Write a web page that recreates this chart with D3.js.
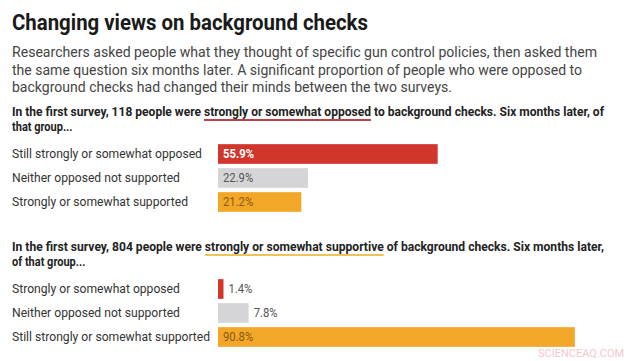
<!DOCTYPE html>
<html>
<head>
<meta charset="utf-8">
<script src="https://cdn.jsdelivr.net/npm/d3@7"></script>
<style>
  body { margin: 0; background: #fff; }
  svg text { font-family: Roboto, "Noto Sans", sans-serif; }
</style>
</head>
<body>
<div id="chart"></div>
<script>
var width = 639, height = 361;

var title = "Changing views on background checks";
var descLines = [
  "Researchers asked people what they thought of specific gun control policies, then asked them",
  "the same question six months later. A significant proportion of people who were opposed to",
  "background checks had changed their minds between the two surveys."
];

// group 1
var head1 = ["In the first survey, 118 people were ", "strongly or somewhat opposed", " to background checks. Six months later, of"];
var head1b = "that group...";
var cats1 = ["Still strongly or somewhat opposed", "Neither opposed not supported", "Strongly or somewhat supported"];
var vals1 = [55.9, 22.9, 21.2];

// group 2
var head2 = ["In the first survey, 804 people were ", "strongly or somewhat supportive", " of background checks. Six months later,"];
var head2b = "of that group...";
var cats2 = ["Strongly or somewhat opposed", "Neither opposed not supported", "Still strongly or somewhat supported"];
var vals2 = [1.4, 7.8, 90.8];

var colors1 = ["#d2352c", "#d5d5d8", "#f2a729"];
var colors2 = ["#d2352c", "#d5d5d8", "#f2a729"];
var labelColors1 = ["#ffffff", "#555555", "#8a5a10"];
var labelColors2 = ["#555555", "#555555", "#8a5a10"];

var svg = d3.select("#chart").append("svg")
  .attr("width", width)
  .attr("height", height);

// squeeze text to a target width (the source uses a condensed face)
function fit(sel, w) {
  sel.each(function() {
    var len = this.getComputedTextLength();
    if (len > w) d3.select(this).attr("textLength", w).attr("lengthAdjust", "spacingAndGlyphs");
  });
}
function condense(sel, k) {
  sel.each(function() {
    var len = this.getComputedTextLength();
    d3.select(this).attr("textLength", len * k).attr("lengthAdjust", "spacingAndGlyphs");
  });
}

svg.append("text")
  .attr("x", 12).attr("y", 30)
  .style("font-size", "22px").style("font-weight", "700").style("fill", "#1a1a1a")
  .text(title)
  .call(fit, 356);

var descW = [585, 570, 440];
svg.selectAll("text.desc")
  .data(descLines)
  .enter().append("text")
  .attr("class", "desc")
  .attr("x", 12)
  .attr("y", function(d, i) { return 57 + i * 17.5; })
  .style("font-size", "14.5px").style("fill", "#444")
  .text(function(d) { return d; })
  .each(function(d, i) { fit(d3.select(this), descW[i]); });

var x = d3.scaleLinear().domain([0, 100]).range([218, 611]);

function drawGroup(head, headB, lineColor, cats, vals, colors, labelColors, top, headW) {
  var g = svg.append("g");

  var t = g.append("text")
    .attr("x", 12).attr("y", top)
    .style("font-size", "12.5px").style("font-weight", "700").style("fill", "#222");
  t.selectAll("tspan").data(head).enter().append("tspan").text(function(d) { return d; });
  fit(t, headW);

  // underline the middle part
  var spans = t.selectAll("tspan").nodes();
  var start = spans[0].getComputedTextLength();
  var mid = spans[1].getComputedTextLength();
  var total = t.node().getComputedTextLength();
  var k = Math.min(1, headW / total);
  g.append("line")
    .attr("x1", 12 + start * k).attr("x2", 12 + (start + mid) * k)
    .attr("y1", top + 4).attr("y2", top + 4)
    .style("stroke", lineColor).style("stroke-width", 2);

  g.append("text")
    .attr("x", 12).attr("y", top + 15)
    .style("font-size", "12.5px").style("font-weight", "700").style("fill", "#222")
    .text(headB)
    .call(condense, 0.88);

  var y = d3.scaleBand().domain(cats).range([top + 26, top + 26 + 72]).paddingInner(0.18).paddingOuter(0.09);

  g.selectAll("text.cat")
    .data(cats).enter().append("text")
    .attr("class", "cat")
    .attr("x", 12)
    .attr("y", function(d) { return y(d) + y.bandwidth() / 2; })
    .attr("dy", "0.35em")
    .style("font-size", "12.5px").style("fill", "#333")
    .text(function(d) { return d; })
    .call(condense, 0.97);

  g.selectAll("rect.bar")
    .data(vals).enter().append("rect")
    .attr("class", "bar")
    .attr("x", x(0))
    .attr("y", function(d, i) { return y(cats[i]); })
    .attr("width", function(d) { return x(d) - x(0); })
    .attr("height", y.bandwidth())
    .style("fill", function(d, i) { return colors[i]; });

  g.selectAll("text.val")
    .data(vals).enter().append("text")
    .attr("class", "val")
    .attr("x", function(d) { return d < 15 ? x(d) + 5 : x(0) + 5; })
    .attr("y", function(d, i) { return y(cats[i]) + y.bandwidth() / 2; })
    .attr("dy", "0.35em")
    .style("font-size", "12.5px")
    .style("font-weight", function(d, i) { return labelColors[i] == "#ffffff" ? "700" : "400"; })
    .style("fill", function(d, i) { return labelColors[i]; })
    .text(function(d) { return d.toFixed(1) + "%"; })
    .call(condense, 0.9);
}

drawGroup(head1, head1b, "#b8434a", cats1, vals1, colors1, labelColors1, 116, 592);
drawGroup(head2, head2b, "#f0c25a", cats2, vals2, colors2, labelColors2, 251, 592);

svg.append("text")
  .attr("x", 538).attr("y", 357)
  .style("font-size", "11px").style("fill", "#f4c8cc")
  .text("SCIENCEAQ.COM")
  .call(fit, 90);
</script>
</body>
</html>
